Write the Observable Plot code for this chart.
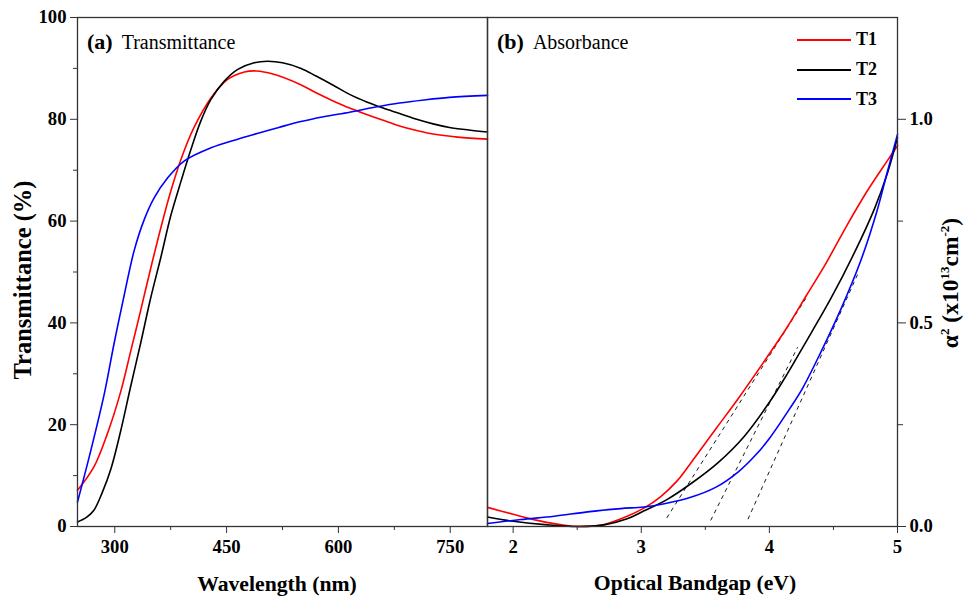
<!DOCTYPE html>
<html>
<head>
<meta charset="utf-8">
<script src="https://cdn.jsdelivr.net/npm/d3@7"></script>
<script src="https://cdn.jsdelivr.net/npm/@observablehq/plot@0.6"></script>
<style>
  body { margin: 0; background: #fff; }
  #wrap { position: relative; width: 973px; height: 602px; font-family: "Liberation Serif", "Times New Roman", serif; color: #000; }
  #left, #right { position: absolute; top: 0; }
  #left { left: 0; }
  #right { left: 487px; }
  .lbl { position: absolute; font-weight: bold; font-size: 21.7px; white-space: nowrap; line-height: 1; }
  .rot { transform: translate(-50%, -50%) rotate(-90deg); }
  .ctr { transform: translate(-50%, -50%); }
  .panel { position: absolute; font-size: 20px; white-space: nowrap; line-height: 1; transform: translateY(-50%); }
  .panel b { font-size: 22px; margin-right: 9px; }
  sup { font-size: 13px; vertical-align: 0.75em; line-height: 0; }
  #legend { position: absolute; left: 797px; top: 25px; }
  .leg { display: flex; align-items: center; height: 29.7px; font-weight: bold; font-size: 18px; }
  .leg svg { margin-right: 5px; }
</style>
</head>
<body>
<div id="wrap">
  <div id="left"></div>
  <div id="right"></div>
  <div class="panel" style="left:87px; top:42px;"><b>(a)</b>Transmittance</div>
  <div class="panel" style="left:497px; top:42px;"><b>(b)</b>Absorbance</div>
  <div class="lbl rot" style="left:23px; top:280px; font-size:24.5px;">Transmittance (%)</div>
  <div class="lbl ctr" style="left:277px; top:585px;">Wavelength (nm)</div>
  <div class="lbl ctr" style="left:695px; top:584px;">Optical Bandgap (eV)</div>
  <div class="lbl rot" style="left:951px; top:283px; font-size:23.5px;">α<sup>2</sup> (x10<sup>13</sup>cm<sup>-2</sup>)</div>
  <div id="legend"></div>
</div>
<script>
// ---------- data ----------
const seriesNames = ["T1", "T2", "T3"];
const seriesColors = ["#ff0000", "#000000", "#0000ff"];

// (a) Transmittance (%) vs wavelength (nm)
const transT1 = [[250,7.1],[272,11.7],[290,18.2],[308,26.5],[321,34.2],[335,42.6],[348,50.6],[362,58.8],[375,65.8],[389,72.2],[406,78.3],[429,84.2],[451,87.8],[474,89.3],[490,89.5],[512,88.9],[548,86.9],[570,85.2],[593,83.6],[615,82.2],[637,81.0],[660,79.8],[682,78.7],[705,77.8],[727,77.1],[760,76.5],[800,76.1]];
const transT2 = [[250,0.9],[262,1.8],[272,3.2],[283,6.6],[295,11.4],[308,18.8],[321,27.3],[335,36.2],[348,44.8],[362,53.0],[375,61.0],[389,67.9],[402,74.0],[415,79.5],[429,83.9],[447,87.5],[465,89.8],[487,91.1],[505,91.4],[525,91.1],[550,90.0],[570,88.5],[593,86.7],[615,84.9],[638,83.4],[660,82.2],[683,81.1],[705,80.0],[727,79.1],[749,78.4],[775,77.9],[800,77.5]];
const transT3 = [[250,4.8],[268,15.0],[286,26.1],[299,35.9],[313,45.7],[326,54.2],[339,60.1],[353,64.6],[371,68.5],[393,71.8],[429,74.4],[465,76.1],[491,77.2],[520,78.4],[548,79.5],[580,80.5],[615,81.4],[650,82.4],[682,83.2],[715,83.8],[749,84.3],[800,84.7]];

// (b) alpha^2 (x10^13 cm^-2) vs photon energy (eV)
const absT1 = [[1.8,0.047],[2.0,0.030],[2.19,0.015],[2.4,0.003],[2.53,0.0],[2.71,0.005],[2.89,0.025],[3.02,0.045],[3.15,0.073],[3.28,0.112],[3.38,0.153],[3.59,0.243],[3.77,0.320],[3.98,0.415],[4.14,0.490],[4.29,0.568],[4.43,0.640],[4.61,0.742],[4.76,0.822],[4.92,0.898],[5.0,0.935]];
const absT2 = [[1.8,0.0235],[2.0,0.013],[2.27,0.004],[2.5,0.0],[2.71,0.004],[2.89,0.019],[3.0,0.035],[3.2,0.066],[3.4,0.108],[3.6,0.157],[3.8,0.220],[4.0,0.305],[4.14,0.375],[4.27,0.445],[4.48,0.560],[4.66,0.670],[4.82,0.780],[4.92,0.866],[5.0,0.955]];
const absT3 = [[1.8,0.0074],[2.06,0.017],[2.32,0.025],[2.58,0.036],[2.84,0.044],[3.02,0.048],[3.18,0.056],[3.38,0.071],[3.58,0.096],[3.76,0.135],[3.90,0.178],[4.0,0.216],[4.16,0.290],[4.26,0.340],[4.40,0.427],[4.56,0.535],[4.71,0.650],[4.84,0.775],[4.92,0.870],[5.0,0.963]];

// Tauc extrapolation lines: [x1, y1, x2, y2]
const tangents = [[3.199,0.021,4.29,0.563],[3.542,0.015,4.22,0.44],[3.833,0.018,4.69,0.62]];

// ticks
const wlTicks = [300, 450, 600, 750];
const wlMinor = [375, 525, 675];
const trTicks = [0, 20, 40, 60, 80, 100];
const trMinor = [10, 30, 50, 70, 90];
const evTicks = [2, 3, 4, 5];
const evMinor = [2.5, 3.5, 4.5];
const abTicks = [0, 0.5, 1.0];
const abMinor = [0.25, 0.75];

// ---------- build tables ----------
const toRows = (arrs) => arrs.flatMap((a, i) => a.map(([x, y]) => ({x, y, s: seriesNames[i]})));
const transRows = toRows([transT1, transT2, transT3]);
const absRows = toRows([absT1, absT2, absT3]);
const tanRows = tangents.map(([x1, y1, x2, y2]) => ({x1, y1, x2, y2}));

const color = {domain: seriesNames, range: seriesColors};
const baseStyle = {fontFamily: "'Liberation Serif', 'Times New Roman', serif", fontSize: "18.7px", fontWeight: "bold", color: "#000", background: "transparent", overflow: "visible"};
const frameStroke = "#333";

const left = Plot.plot({
  width: 487, height: 602,
  marginLeft: 77, marginRight: 0, marginTop: 17, marginBottom: 76,
  x: {domain: [250, 800]},
  y: {domain: [0, 100]},
  color,
  style: baseStyle,
  marks: [
    Plot.axisX({ticks: wlTicks, tickSize: 7, tickPadding: 6, label: null, tickFormat: d => String(d), stroke: frameStroke}),
    Plot.axisX({ticks: wlMinor, tickSize: 4, label: null, tickFormat: () => "", stroke: frameStroke}),
    Plot.axisY({ticks: trTicks, tickSize: 7, tickPadding: 4, label: null, tickFormat: d => String(d), stroke: frameStroke}),
    Plot.axisY({ticks: trMinor, tickSize: 4, label: null, tickFormat: () => "", stroke: frameStroke}),
    Plot.line(transRows, {x: "x", y: "y", z: "s", stroke: "s", curve: "catmull-rom", strokeWidth: 1.6}),
    Plot.frame({stroke: frameStroke, strokeWidth: 1.3})
  ]
});
document.getElementById("left").append(left);

const right = Plot.plot({
  width: 486, height: 602,
  marginLeft: 0, marginRight: 76, marginTop: 17, marginBottom: 76,
  x: {domain: [1.8, 5]},
  y: {domain: [0, 1.25]},
  color,
  style: baseStyle,
  marks: [
    Plot.axisX({ticks: evTicks, tickSize: 7, tickPadding: 6, label: null, tickFormat: d => String(d), stroke: frameStroke}),
    Plot.axisX({ticks: evMinor, tickSize: 4, label: null, tickFormat: () => "", stroke: frameStroke}),
    Plot.axisY({anchor: "right", ticks: abTicks, tickSize: 8, tickPadding: 4, label: null, tickFormat: d3.format(".1f"), stroke: frameStroke}),
    Plot.axisY({anchor: "right", ticks: abMinor, tickSize: 5, label: null, tickFormat: () => "", stroke: frameStroke}),
    Plot.link(tanRows, {x1: "x1", y1: "y1", x2: "x2", y2: "y2", stroke: "#000", strokeWidth: 0.9, strokeDasharray: "4,4"}),
    Plot.line(absRows, {x: "x", y: "y", z: "s", stroke: "s", curve: "catmull-rom", strokeWidth: 1.6}),
    Plot.frame({stroke: frameStroke, strokeWidth: 1.3})
  ]
});
document.getElementById("right").append(right);

// legend
const legend = document.getElementById("legend");
seriesNames.forEach((name, i) => {
  const row = document.createElement("div");
  row.className = "leg";
  row.innerHTML = `<svg width="54" height="4"><line x1="0" x2="54" y1="2" y2="2" stroke="${seriesColors[i]}" stroke-width="1.8"/></svg><span>${name}</span>`;
  legend.append(row);
});
</script>
</body>
</html>
